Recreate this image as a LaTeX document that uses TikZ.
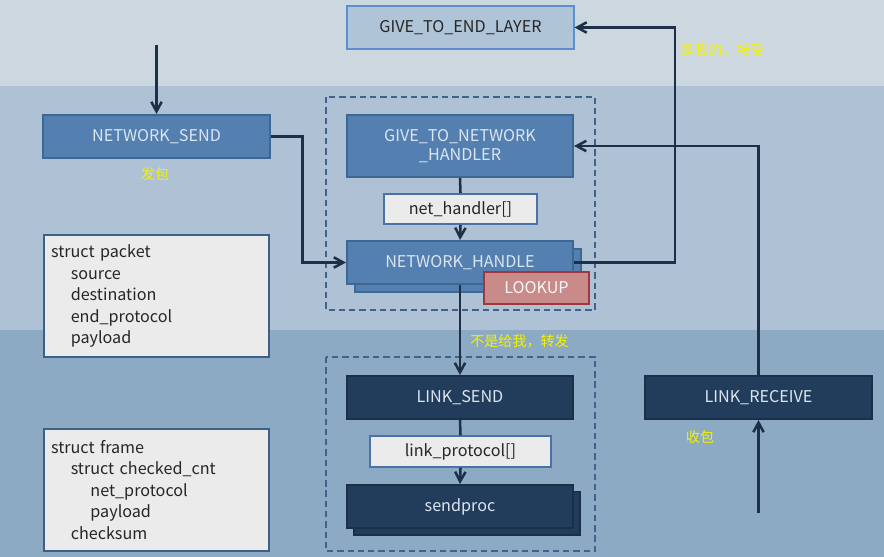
\documentclass[tikz,border=0pt]{standalone}
\usepackage{fontspec}
\setmainfont{Noto Sans CJK SC}
\usetikzlibrary{arrows.meta}

\definecolor{bandtop}{HTML}{CDD7E0}
\definecolor{bandmid}{HTML}{AFC1D4}
\definecolor{bandlow}{HTML}{8DAAC5}
\definecolor{midblue}{HTML}{5380B0}
\definecolor{midedge}{HTML}{3E6893}
\definecolor{navy}{HTML}{213D5B}
\definecolor{navyedge}{HTML}{1A3048}
\definecolor{wire}{HTML}{1C3147}
\definecolor{paleblue}{HTML}{B0C4D8}
\definecolor{paleedge}{HTML}{5B8FD0}
\definecolor{lookfill}{HTML}{C98A8A}
\definecolor{lookedge}{HTML}{A0373C}
\definecolor{grpedge}{HTML}{3F6389}
\definecolor{cardfill}{HTML}{EBEBEB}
\definecolor{cardedge}{HTML}{3E6088}
\definecolor{remark}{HTML}{F2F200}
\definecolor{boxtext}{HTML}{DCE5EF}

\newcommand{\ind}{\hspace*{14pt}}

\tikzset{
  box/.style={draw, line width=1.4pt, minimum width=5.65cm, minimum height=1.075cm,
    align=center, inner sep=2pt, font=\fontsize{11.5}{14}\selectfont},
  netbox/.style={box, fill=midblue, draw=midedge, text=boxtext},
  linkbox/.style={box, fill=navy, draw=navyedge, text=boxtext},
  endbox/.style={box, fill=paleblue, draw=paleedge, text=black!85},
  tablebox/.style={box, fill=cardfill, draw=paleedge!80!black, text=black!85, minimum height=0.76cm},
  lookupbox/.style={box, fill=lookfill, draw=lookedge, text=white!92!lookfill,
    minimum width=2.625cm, minimum height=0.8cm},
  structbox/.style={draw=cardedge, fill=cardfill, line width=1.4pt, text width=5.27cm,
    minimum width=5.625cm, minimum height=3.05cm, align=left, inner xsep=0.175cm,
    text=black!85, font=\fontsize{11.5}{15.3}\selectfont},
  group/.style={draw=grpedge, line width=1.4pt, dash pattern=on 4.5pt off 2.8pt},
  remarks/.style={text=remark, font=\fontsize{10}{12}\selectfont, inner sep=0pt},
  wires/.style={draw=wire, line width=1.8pt},
  arr/.style={wires, -{Straight Barb[length=2.4mm, width=2.6mm, line width=1.8pt]}}
}

\begin{document}
\begin{tikzpicture}[x=0.025cm, y=-0.025cm]
\useasboundingbox (0,0) rectangle (884,557);

% layers
\fill[bandtop] (0,0) rectangle (884,86);
\fill[bandmid] (0,86) rectangle (884,330);
\fill[bandlow] (0,330) rectangle (884,557);

% dashed groups
\draw[group] (326,97) rectangle (595,310);
\draw[group] (326,357) rectangle (595,551);

% boxes
\node[endbox] (endlayer) at (460.5,27.5) {GIVE\_TO\_END\_LAYER};
\node[netbox] (netsend) at (156.5,136.5) {NETWORK\_SEND};
\node[netbox, minimum height=1.55cm] (givehandler) at (460,146) {GIVE\_TO\_NETWORK\\\_HANDLER};
\node[tablebox, minimum width=3.825cm] (nethandler) at (460.5,209) {net\_handler[]};
\node[netbox] (handleback) at (468,270.5) {};
\node[netbox] (handle) at (460,262.5) {NETWORK\_HANDLE};
\node[lookupbox] (lookup) at (536.5,288) {LOOKUP};
\node[linkbox] (linksend) at (460,397.5) {LINK\_SEND};
\node[tablebox, minimum width=4.525cm] (linkproto) at (460.5,451.5) {link\_protocol[]};
\node[linkbox] (sendprocback) at (467,513.5) {};
\node[linkbox] (sendproc) at (460,506.5) {sendproc};
\node[linkbox, minimum width=5.675cm] (linkrecv) at (758.5,397.5) {LINK\_RECEIVE};

\node[structbox] (packet) at (156.5,296) {struct packet\\\ind source\\\ind destination\\\ind end\_protocol\\\ind payload};
\node[structbox] (frame) at (156.5,490) {struct frame\\\ind struct checked\_cnt\\\ind\ind net\_protocol\\\ind\ind payload\\\ind checksum};

% remarks
\node[remarks, anchor=west] (mine) at (680,50) {是我的，接受};
\node[remarks] (sendnote) at (155,174) {发包};
\node[remarks, anchor=west] (fwd) at (470,341) {不是给我，转发};
\node[remarks] (recvnote) at (700,437) {收包};

% connectors
\coordinate (sendin) at (156.5,45);
\coordinate (recvin) at (758.5,513);
\draw[arr] (sendin) -- (netsend.north);
\draw[arr] (netsend.east) -- ++(32,0) |- (handle.west);
\draw[wires] (givehandler.south) -- (nethandler.north);
\draw[arr] (nethandler.south) -- (handle.north);
\draw[arr] (handle.south) -- (linksend.north);
\draw[wires] (linksend.south) -- (linkproto.north);
\draw[arr] (linkproto.south) -- (sendproc.north);
\draw[arr] (handle.east) -- ++(101,0) |- (endlayer.east);
\draw[arr] (linkrecv.north) |- (givehandler.east);
\draw[arr] (recvin) -- (linkrecv.south);
\end{tikzpicture}
\end{document}
